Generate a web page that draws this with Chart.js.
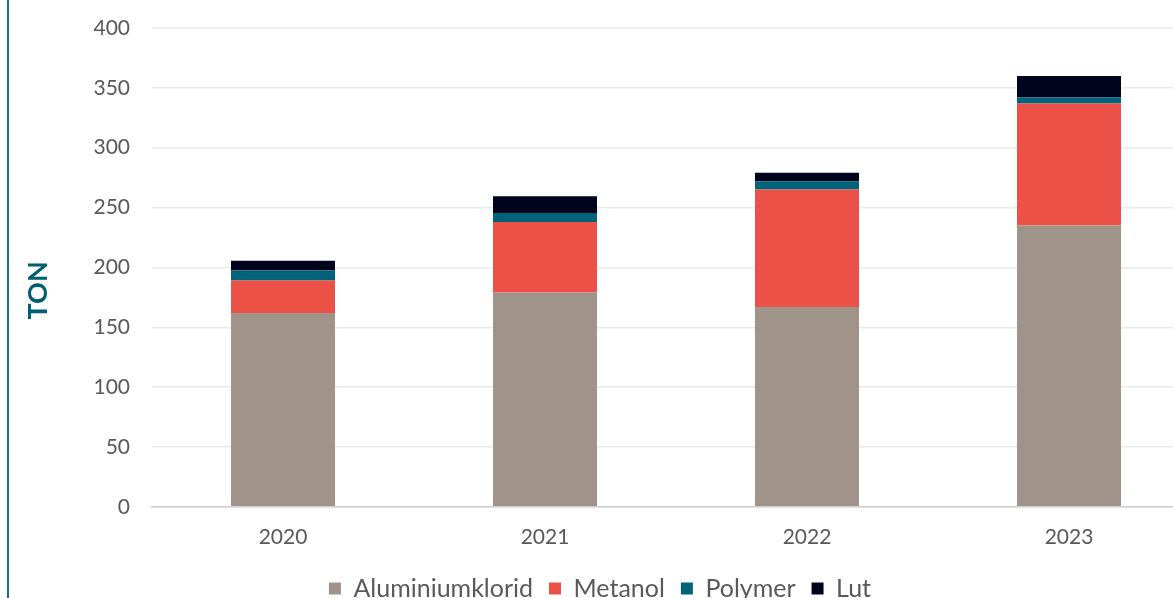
<!DOCTYPE html>
<html>
<head>
<meta charset="utf-8">
<script src="https://cdn.jsdelivr.net/npm/chart.js@4"></script>
<style>
    html, body { margin: 0; padding: 0; background: #fff; overflow: hidden; }
    #wrap { position: relative; width: 1212px; height: 611px; }
    #edge { position: absolute; left: 7px; top: 0; width: 2px; height: 611px; background: #1f6c82; z-index: 2; }
</style>
</head>
<body>
<div id="wrap">
    <div id="edge"></div>
    <canvas id="usage-chart"></canvas>
</div>
<script>
// Chemical usage per year (tons)
const years = ['2020', '2021', '2022', '2023'];
const aluminiumklorid = [162, 179, 167, 235];
const metanol = [27, 59, 98, 102];
const polymer = [8.5, 7.5, 7, 5];
const lut = [8, 14, 7, 18];
const yTicks = [0, 50, 100, 150, 200, 250, 300, 350, 400];
const yTitle = 'TON';

const textColor = '#595959';
const fontFamily = 'Lato, "Open Sans", sans-serif';

// Axis title sits a bit below the middle of the plot in the original
const yTitlePlugin = {
    id: 'yTitle',
    afterDraw(chart) {
        const ctx = chart.ctx;
        const area = chart.chartArea;
        ctx.save();
        ctx.translate(38, (area.top + area.bottom) / 2 + 23);
        ctx.rotate(-Math.PI / 2);
        ctx.font = 'bold 27px ' + fontFamily;
        ctx.fillStyle = '#005e73';
        ctx.textAlign = 'center';
        ctx.textBaseline = 'middle';
        ctx.fillText(yTitle, 0, 0);
        ctx.restore();
    }
};

const usageCtx = document.getElementById('usage-chart').getContext('2d');
const usageChart = new Chart(usageCtx, {
    type: 'bar',
    data: {
        labels: years,
        datasets: [{
            label: 'Aluminiumklorid',
            data: aluminiumklorid,
            backgroundColor: '#a0948a'
        }, {
            label: 'Metanol',
            data: metanol,
            backgroundColor: '#eb5146'
        }, {
            label: 'Polymer',
            data: polymer,
            backgroundColor: '#00637a'
        }, {
            label: 'Lut',
            data: lut,
            backgroundColor: '#00041f'
        }]
    },
    plugins: [yTitlePlugin],
    options: {
        responsive: true,
        maintainAspectRatio: false,
        animation: false,
        categoryPercentage: 1,
        barPercentage: 0.397,
        layout: {
            padding: { top: 0, right: 12, left: 0, bottom: 0 }
        },
        plugins: {
            legend: {
                display: true,
                position: 'bottom',
                labels: {
                    boxWidth: 12,
                    boxHeight: 12,
                    padding: 16,
                    color: textColor,
                    font: { family: fontFamily, size: 25 }
                }
            },
            tooltip: { enabled: false }
        },
        scales: {
            x: {
                stacked: true,
                grid: { display: false },
                border: { color: '#cfcfcf', width: 1.5 },
                ticks: {
                    padding: 10,
                    color: textColor,
                    font: { family: fontFamily, size: 21 }
                }
            },
            y: {
                stacked: true,
                min: 0,
                max: 400,
                afterFit: function(scale) {
                    scale.width = 152;
                    scale.paddingTop = 28;
                    scale.paddingBottom = 10;
                },
                afterBuildTicks: function(scale) {
                    scale.ticks = yTicks.map(v => ({ value: v }));
                },
                grid: { color: '#ebebeb', lineWidth: 1.5, drawTicks: false },
                border: { display: false },
                ticks: {
                    padding: 22,
                    color: textColor,
                    font: { family: fontFamily, size: 21 }
                }
            }
        }
    }
});
</script>
</body>
</html>
